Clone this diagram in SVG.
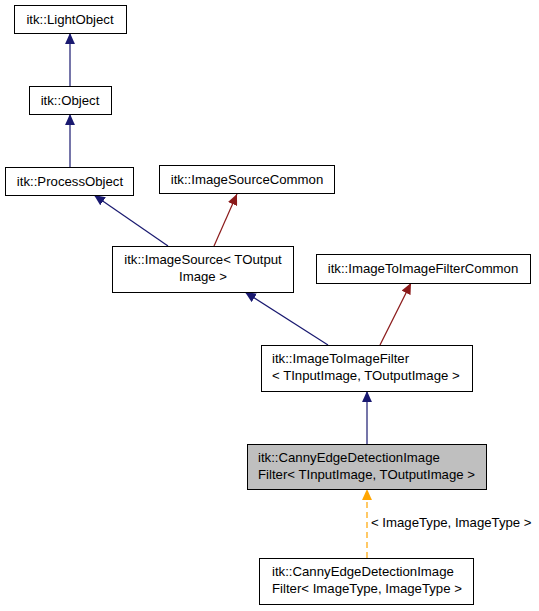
<svg xmlns="http://www.w3.org/2000/svg" width="539" height="611" viewBox="0 0 539 611">
<style>
.box{fill:#ffffff;stroke:#000000;stroke-width:1}
.hl{fill:#bfbfbf;stroke:#000000;stroke-width:1}
text{font-family:"Liberation Sans",Arial,sans-serif;font-size:13.2px;fill:#000000}
.c{text-anchor:middle}
.blue{fill:none;stroke:#191970;stroke-width:1.2}
.red{fill:none;stroke:#8b1a1a;stroke-width:1.2}
.orange{fill:none;stroke:#ffa500;stroke-width:1.2;stroke-dasharray:6,4}
</style>
<defs>
<marker id="ab" viewBox="0 0 10 9" refX="10" refY="4.5" markerWidth="11" markerHeight="10" markerUnits="userSpaceOnUse" orient="auto"><path d="M0,0 L10,4.5 L0,9 z" fill="#191970"/></marker>
<marker id="ar" viewBox="0 0 10 9" refX="10" refY="4.5" markerWidth="11" markerHeight="10" markerUnits="userSpaceOnUse" orient="auto"><path d="M0,0 L10,4.5 L0,9 z" fill="#8b1a1a"/></marker>
<marker id="ao" viewBox="0 0 10 9" refX="10" refY="4.5" markerWidth="11" markerHeight="10" markerUnits="userSpaceOnUse" orient="auto"><path d="M0,0 L10,4.5 L0,9 z" fill="#ffa500"/></marker>
</defs>
<g id="connectors">
<path class="blue" d="M70,86 L70,33" marker-end="url(#ab)"/>
<path class="blue" d="M70,167 L70,114" marker-end="url(#ab)"/>
<path class="blue" d="M168,246 L94,195" marker-end="url(#ab)"/>
<path class="red" d="M214,246 L237,194" marker-end="url(#ar)"/>
<path class="blue" d="M328,345 L245,292" marker-end="url(#ab)"/>
<path class="red" d="M380,345 L411,283" marker-end="url(#ar)"/>
<path class="blue" d="M367,444 L367,391" marker-end="url(#ab)"/>
<path class="orange" d="M367,558 L367,489" marker-end="url(#ao)"/>
<text x="371" y="527">&lt; ImageType, ImageType &gt;</text>
</g>
<g id="LightObject"><rect class="box" x="14.5" y="5.5" width="112" height="28"/><text class="c" x="70" y="24">itk::LightObject</text></g>
<g id="Object"><rect class="box" x="29.5" y="86.5" width="82" height="28"/><text class="c" x="70" y="105">itk::Object</text></g>
<g id="ProcessObject"><rect class="box" x="5.5" y="167.5" width="128" height="28"/><text class="c" x="70" y="186">itk::ProcessObject</text></g>
<g id="ImageSourceCommon"><rect class="box" x="159.5" y="165.5" width="175" height="28"/><text class="c" x="247" y="184">itk::ImageSourceCommon</text></g>
<g id="ImageSource"><rect class="box" x="112.5" y="246.5" width="181" height="46"/><text class="c" x="203" y="264">itk::ImageSource&lt; TOutput</text><text class="c" x="203" y="281">Image &gt;</text></g>
<g id="ImageToImageFilterCommon"><rect class="box" x="316.5" y="254.5" width="214" height="29"/><text class="c" x="423" y="273">itk::ImageToImageFilterCommon</text></g>
<g id="ImageToImageFilter"><rect class="box" x="261.5" y="345.5" width="211" height="46"/><text x="272" y="363">itk::ImageToImageFilter</text><text x="272" y="380">&lt; TInputImage, TOutputImage &gt;</text></g>
<g id="CannyEdgeDetectionImageFilter"><rect class="hl" x="247.5" y="444.5" width="239" height="45"/><text x="258" y="462">itk::CannyEdgeDetectionImage</text><text x="258" y="479">Filter&lt; TInputImage, TOutputImage &gt;</text></g>
<g id="CannyEdgeDetectionImageFilterImageType"><rect class="box" x="259.5" y="558.5" width="214" height="46"/><text x="272" y="576">itk::CannyEdgeDetectionImage</text><text x="272" y="593">Filter&lt; ImageType, ImageType &gt;</text></g>
</svg>
